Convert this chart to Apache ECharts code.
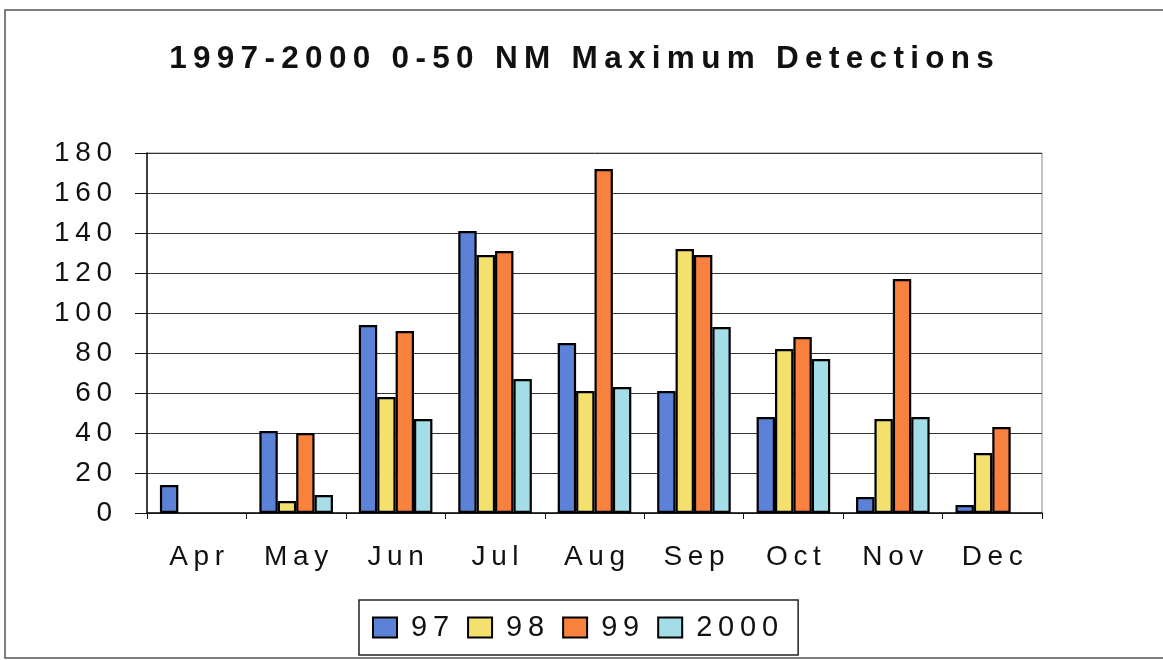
<!DOCTYPE html>
<html>
<head>
<meta charset="utf-8">
<script src="https://cdn.jsdelivr.net/npm/echarts@6/dist/echarts.min.js"></script>
<style>
  html, body { margin: 0; padding: 0; background: #fff; }
  #chart { width: 1163px; height: 660px; }
</style>
</head>
<body>
<div id="chart"></div>
<script>
// values
var months = ["Apr", "May", "Jun", "Jul", "Aug", "Sep", "Oct", "Nov", "Dec"];
var yearNames = ["97", "98", "99", "2000"];
var y97 = [14, 41, 94, 141, 85, 61, 48, 8, 4];
var y98 = [null, 6, 58, 129, 61, 132, 82, 47, 30];
var y99 = [null, 40, 91, 131, 172, 129, 88, 117, 43];
var y2000 = [null, 9, 47, 67, 63, 93, 77, 48, null];
var yTicks = [0, 20, 40, 60, 80, 100, 120, 140, 160, 180];

var colors = ["#5b82d6", "#f4e06c", "#f8813d", "#a4dde8"];
var font = "'Liberation Sans', Arial, sans-serif";

// the original uses wide letter spacing, fake it with thin spaces
function sp(s) {
  return String(s).split("").join("\u2009");
}

var chart = echarts.init(document.getElementById("chart"));

var seriesData = [y97, y98, y99, y2000];
var series = [];
for (var i = 0; i < yearNames.length; i++) {
  series.push({
    name: yearNames[i],
    type: "bar",
    data: seriesData[i],
    barGap: "0%",
    barCategoryGap: "26%",
    itemStyle: { color: colors[i], borderColor: "#000", borderWidth: 2.2 }
  });
}

var option = {
  backgroundColor: "#fff",
  animation: false,
  title: {
    text: sp("1997-2000 0-50 NM Maximum Detections"),
    left: "center",
    top: 38,
    textStyle: { fontFamily: font, fontWeight: "bold", fontSize: 31.5, color: "#111" }
  },
  graphic: [{
    type: "rect",
    shape: { x: 5, y: 10, width: 1170, height: 648 },
    style: { fill: null, stroke: "#555", lineWidth: 1.5 },
    z: -1
  }],
  legend: {
    data: yearNames,
    left: 359,
    top: 600,
    orient: "horizontal",
    padding: [13, 20, 13, 13],
    borderColor: "#222",
    borderWidth: 1.5,
    itemWidth: 24,
    itemHeight: 20,
    itemGap: 18,
    icon: "rect",
    itemStyle: { borderColor: "#000", borderWidth: 2 },
    formatter: function (n) { return sp(n); },
    textStyle: { fontFamily: font, fontSize: 29, color: "#111", padding: [0, 0, 0, 9] }
  },
  grid: {
    left: 147,
    right: 121,
    top: 153,
    bottom: 147,
    show: true,
    borderColor: "#888",
    borderWidth: 1
  },
  xAxis: {
    type: "category",
    data: months,
    axisLine: { lineStyle: { color: "#111", width: 1.5 } },
    axisTick: { show: true, length: 6, lineStyle: { color: "#111" } },
    axisLabel: {
      margin: 30,
      fontFamily: font,
      fontSize: 28,
      color: "#111",
      formatter: function (v) { return sp(v); }
    }
  },
  yAxis: {
    type: "value",
    min: yTicks[0],
    max: yTicks[yTicks.length - 1],
    interval: 20,
    axisLine: { show: true, lineStyle: { color: "#111", width: 1.5 } },
    axisTick: { show: true, inside: false, length: 12, lineStyle: { color: "#111" } },
    splitLine: { show: true, lineStyle: { color: "#333", width: 1 } },
    axisLabel: {
      margin: 35,
      fontFamily: font,
      fontSize: 28,
      color: "#111",
      formatter: function (v) { return sp(v); }
    }
  },
  series: series
};

chart.setOption(option);
</script>
</body>
</html>
